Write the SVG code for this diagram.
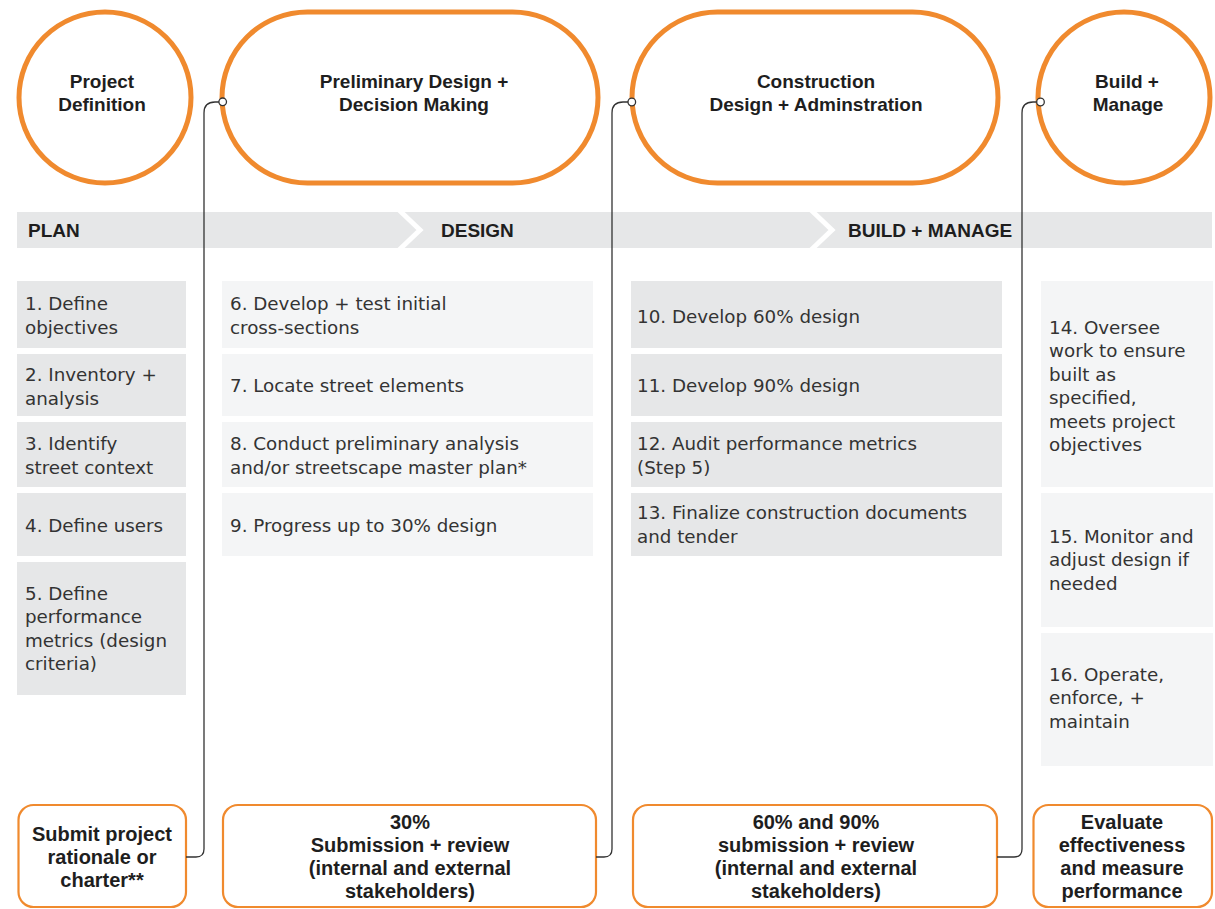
<svg xmlns="http://www.w3.org/2000/svg" width="1215" height="909" viewBox="0 0 1215 909">
<style>
.ph{fill:#fff;stroke:#F08A2E;stroke-width:5}
.sb{fill:#fff;stroke:#F08A2E;stroke-width:2.2}
.band{fill:#E6E7E8}
.dk{fill:#E6E7E8}
.lt{fill:#F4F5F6}
.h{font-family:"Liberation Sans",Arial,sans-serif;font-weight:bold;font-size:19px;fill:#1e1e1e}
.hc{font-family:"Liberation Sans",Arial,sans-serif;font-weight:bold;font-size:19px;fill:#1e1e1e;text-anchor:middle}
.bc{font-family:"Liberation Sans",Arial,sans-serif;font-weight:bold;font-size:20px;fill:#1e1e1e;text-anchor:middle}
.t{font-family:"DejaVu Sans",sans-serif;font-size:18.3px;fill:#333}
.cn{fill:none;stroke:#333;stroke-width:1.3}
.dot{fill:#fff;stroke:#333;stroke-width:1.3}
</style>
<rect width="1215" height="909" fill="#fff"/>

<g id="phase-project-definition">
<ellipse class="ph" cx="105" cy="97.5" rx="86" ry="85.5"/>
<text class="hc" x="102" y="88">Project</text>
<text class="hc" x="102" y="111">Definition</text>
</g>
<g id="phase-preliminary-design">
<rect class="ph" x="222" y="12" width="376" height="171" rx="85.5"/>
<text class="hc" x="414" y="88">Preliminary Design +</text>
<text class="hc" x="414" y="111">Decision Making</text>
</g>
<g id="phase-construction-design">
<rect class="ph" x="632" y="12" width="366" height="171" rx="85.5"/>
<text class="hc" x="816" y="88">Construction</text>
<text class="hc" x="816" y="111">Design + Adminstration</text>
</g>
<g id="phase-build-manage">
<ellipse class="ph" cx="1124" cy="97.5" rx="86" ry="85.5"/>
<text class="hc" x="1127" y="88">Build +</text>
<text class="hc" x="1128" y="111">Manage</text>
</g>

<g id="stage-band">
<rect class="band" x="17" y="212" width="1195" height="36"/>
<polyline points="399,210 420,230 399,250" fill="none" stroke="#fff" stroke-width="5"/>
<polyline points="811,210 832,230 811,250" fill="none" stroke="#fff" stroke-width="5"/>
<text class="h" x="28" y="237">PLAN</text>
<text class="h" x="441" y="237">DESIGN</text>
<text class="h" x="848" y="237">BUILD + MANAGE</text>
</g>

<g id="step-1"><rect class="dk" x="17" y="281" width="169" height="67"/>
<text class="t" x="25" y="309.5">1. Define</text><text class="t" x="25" y="333.5">objectives</text></g>
<g id="step-2"><rect class="dk" x="17" y="354" width="169" height="62"/>
<text class="t" x="25" y="380.5">2. Inventory +</text><text class="t" x="25" y="404.5">analysis</text></g>
<g id="step-3"><rect class="dk" x="17" y="422" width="169" height="65"/>
<text class="t" x="25" y="449.5">3. Identify</text><text class="t" x="25" y="473.5">street context</text></g>
<g id="step-4"><rect class="dk" x="17" y="493" width="169" height="63"/>
<text class="t" x="25" y="531.5">4. Define users</text></g>
<g id="step-5"><rect class="dk" x="17" y="562" width="169" height="133"/>
<text class="t" x="25" y="599.5">5. Define</text><text class="t" x="25" y="623">performance</text><text class="t" x="25" y="646.5">metrics (design</text><text class="t" x="25" y="670">criteria)</text></g>

<g id="step-6"><rect class="lt" x="222" y="281" width="371" height="67"/>
<text class="t" x="230" y="309.5">6. Develop + test initial</text><text class="t" x="230" y="333.5">cross-sections</text></g>
<g id="step-7"><rect class="lt" x="222" y="354" width="371" height="62"/>
<text class="t" x="230" y="391.5">7. Locate street elements</text></g>
<g id="step-8"><rect class="lt" x="222" y="422" width="371" height="65"/>
<text class="t" x="230" y="449.5">8. Conduct preliminary analysis</text><text class="t" x="230" y="473.5">and/or streetscape master plan*</text></g>
<g id="step-9"><rect class="lt" x="222" y="493" width="371" height="63"/>
<text class="t" x="230" y="531.5">9. Progress up to 30% design</text></g>

<g id="step-10"><rect class="dk" x="631" y="281" width="371" height="67"/>
<text class="t" x="637" y="322.5">10. Develop 60% design</text></g>
<g id="step-11"><rect class="dk" x="631" y="354" width="371" height="62"/>
<text class="t" x="637" y="391.5">11. Develop 90% design</text></g>
<g id="step-12"><rect class="dk" x="631" y="422" width="371" height="65"/>
<text class="t" x="637" y="449.5">12. Audit performance metrics</text><text class="t" x="637" y="473.5">(Step 5)</text></g>
<g id="step-13"><rect class="dk" x="631" y="493" width="371" height="63"/>
<text class="t" x="637" y="518.5">13. Finalize construction documents</text><text class="t" x="637" y="542.5">and tender</text></g>

<g id="step-14"><rect class="lt" x="1041" y="281" width="172" height="206"/>
<text class="t" x="1049" y="333.5">14. Oversee</text><text class="t" x="1049" y="357">work to ensure</text><text class="t" x="1049" y="380.5">built as</text><text class="t" x="1049" y="404">specified,</text><text class="t" x="1049" y="427.5">meets project</text><text class="t" x="1049" y="451">objectives</text></g>
<g id="step-15"><rect class="lt" x="1041" y="493" width="172" height="134"/>
<text class="t" x="1049" y="542.5">15. Monitor and</text><text class="t" x="1049" y="566">adjust design if</text><text class="t" x="1049" y="589.5">needed</text></g>
<g id="step-16"><rect class="lt" x="1041" y="633" width="172" height="133"/>
<text class="t" x="1049" y="680.5">16. Operate,</text><text class="t" x="1049" y="704">enforce, +</text><text class="t" x="1049" y="727.5">maintain</text></g>

<g id="submit-charter"><rect class="sb" x="18.5" y="805" width="167.5" height="102" rx="15"/>
<text class="bc" x="102" y="841">Submit project</text><text class="bc" x="102" y="864">rationale or</text><text class="bc" x="102" y="887">charter**</text></g>
<g id="submit-30"><rect class="sb" x="223" y="805" width="373" height="102" rx="15"/>
<text class="bc" x="410" y="829">30%</text><text class="bc" x="410" y="852">Submission + review</text><text class="bc" x="410" y="875">(internal and external</text><text class="bc" x="410" y="897.5">stakeholders)</text></g>
<g id="submit-60-90"><rect class="sb" x="633" y="805" width="364" height="102" rx="15"/>
<text class="bc" x="816" y="829">60% and 90%</text><text class="bc" x="816" y="852">submission + review</text><text class="bc" x="816" y="875">(internal and external</text><text class="bc" x="816" y="897.5">stakeholders)</text></g>
<g id="evaluate"><rect class="sb" x="1033.5" y="805" width="178.5" height="102" rx="15"/>
<text class="bc" x="1122" y="829">Evaluate</text><text class="bc" x="1122" y="852">effectiveness</text><text class="bc" x="1122" y="875">and measure</text><text class="bc" x="1122" y="897.5">performance</text></g>

<g id="connectors">
<path class="cn" d="M186 857 H196 Q204 857 204 849 V113 Q204 102 215 102 H219"/>
<circle class="dot" cx="222.7" cy="101.8" r="3.8"/>
<path class="cn" d="M596 857 H604 Q612 857 612 849 V113 Q612 102 623 102 H628"/>
<circle class="dot" cx="631.8" cy="102" r="3.8"/>
<path class="cn" d="M997 857 H1014 Q1022 857 1022 849 V113 Q1022 102 1033 102 H1037"/>
<circle class="dot" cx="1040.5" cy="102" r="3.8"/>
</g>
</svg>
